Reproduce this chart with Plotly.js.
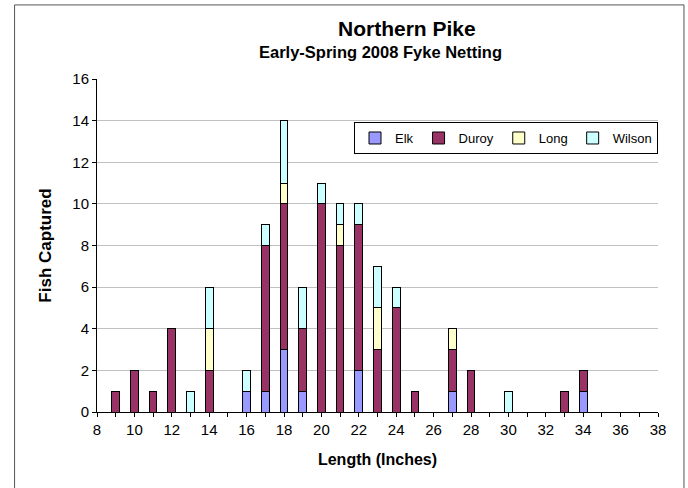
<!DOCTYPE html>
<html>
<head>
<meta charset="utf-8">
<script src="https://cdn.plot.ly/plotly-3.0.1.min.js"></script>
<style>html,body{margin:0;padding:0;background:#fff;}#chart{width:688px;height:488px;}</style>
</head>
<body>
<div id="chart"></div>
<script>
const lengths = [9,10,11,12,13,14,16,17,18,19,20,21,22,23,24,25,27,28,30,33,34];
const elk     = [0,0,0,0,0,0,1,1,3,1,0,0,2,0,0,0,1,0,0,0,1];
const duroy   = [1,2,1,4,0,2,0,7,7,3,10,8,7,3,5,1,2,2,0,1,1];
const longLake= [0,0,0,0,0,2,0,0,1,0,0,1,0,2,0,0,1,0,0,0,0];
const wilson  = [0,0,0,0,1,2,1,1,3,2,1,1,1,2,1,0,0,0,1,0,0];
const seriesNames = ['Elk','Duroy','Long','Wilson'];
const seriesColors = ['#9999FF','#993366','#FFFFCC','#CCFFFF'];
const seriesData = [elk, duroy, longLake, wilson];

const traces = seriesData.map((vals, i) => ({
  type: 'bar',
  name: seriesNames[i],
  x: lengths,
  y: vals.map(v => v === 0 ? null : v),
  width: 0.41,
  marker: {color: seriesColors[i], line: {color: '#000000', width: 1}},
  hoverinfo: 'x+y+name'
}));

const font = 'Liberation Sans, Arial, sans-serif';
const layout = {
  width: 688, height: 488,
  barmode: 'stack',
  paper_bgcolor: '#ffffff', plot_bgcolor: '#ffffff',
  margin: {l: 96.5, r: 30, t: 79, b: 76.3, pad: 0},
  font: {family: font, size: 14, color: '#000'},
  title: {text: '<b>Northern Pike</b>', font: {family: font, size: 21, color: '#000'},
          x: 380/688, xanchor: 'center', xref: 'paper', y: 1 - 29/488, yanchor: 'middle', yref: 'container'},
  annotations: [{text: '<b>Early-Spring 2008 Fyke Netting</b>', xref: 'paper', yref: 'paper',
    x: (380 - 96.5) / 561.5, y: (411.7 - 52.5) / 332.7, xanchor: 'center', yanchor: 'middle', showarrow: false,
    font: {family: font, size: 16.5, color: '#000'}}],
  xaxis: {
    range: [8, 38], dtick: 2, tick0: 8, ticks: 'outside', ticklen: 4, tickcolor: '#000',
    minor: {dtick: 1, tick0: 8, ticks: 'outside', ticklen: 4, tickcolor: '#000'},
    showline: true, linecolor: '#000', linewidth: 1, showgrid: false, zeroline: false,
    tickfont: {family: font, size: 15, color: '#000'},
    title: {text: '<b>Length (Inches)</b>', font: {family: font, size: 16, color: '#000'}, standoff: 16}
  },
  yaxis: {
    range: [0, 16], dtick: 2, tick0: 0, ticks: 'outside', ticklen: 4, tickcolor: '#000',
    showline: true, linecolor: '#000', linewidth: 1, showgrid: true, gridcolor: '#C0C0C0', gridwidth: 1,
    zeroline: false,
    tickfont: {family: font, size: 15, color: '#000'},
    title: {text: '<b>Fish Captured</b>', font: {family: font, size: 17, color: '#000'}, standoff: 16}
  },
  legend: {
    orientation: 'h', x: 1, xanchor: 'right', y: (411.7 - 122) / 332.7, yanchor: 'top',
    bordercolor: '#000', borderwidth: 1, bgcolor: '#fff',
    font: {family: font, size: 13, color: '#000'}, traceorder: 'normal',
    itemwidth: 30, tracegroupgap: 0
  },
  shapes: [{type: 'rect', xref: 'paper', yref: 'paper', layer: 'above',
    x0: (14 - 96.5) / 561.5, x1: (684 - 96.5) / 561.5,
    y0: -0.3, y1: (411.7 - 5) / 332.7,
    line: {color: '#555', width: 1}, fillcolor: 'rgba(0,0,0,0)'}],
  showlegend: true
};

Plotly.newPlot('chart', traces, layout, {displayModeBar: false, staticPlot: true});
</script>
</body>
</html>
